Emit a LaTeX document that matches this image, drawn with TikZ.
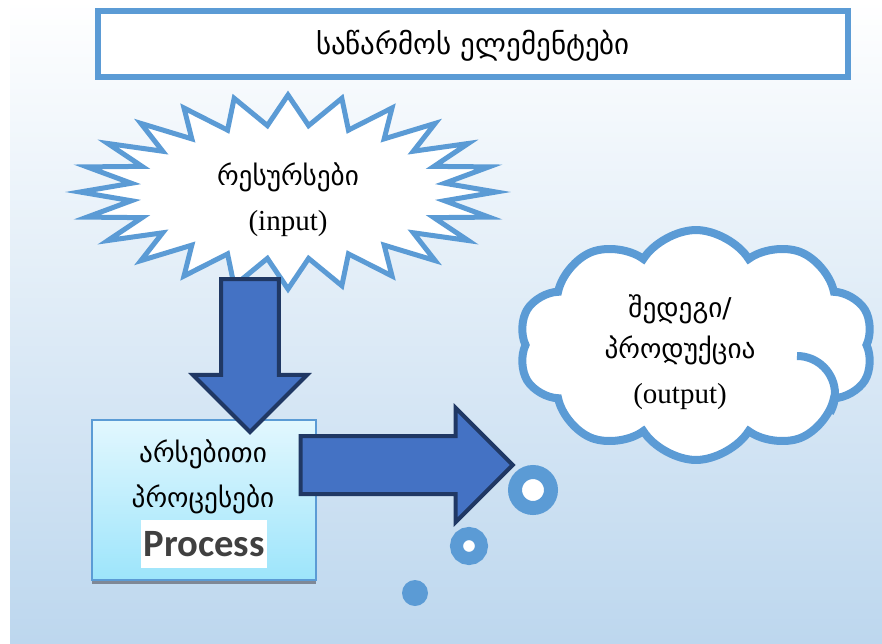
\documentclass[tikz,border=0pt]{standalone}
\usepackage{fontspec}
\setmainfont{Liberation Serif}
\newfontfamily\geo{DejaVu Sans}
\newfontfamily\procfont{Carlito}
\usepackage{tikz}
\definecolor{bleu}{HTML}{5B9BD5}
\definecolor{bleufl}{HTML}{4472C4}
\definecolor{marine}{HTML}{203864}
\definecolor{ciel}{HTML}{BDD7EE}
\definecolor{cyanh}{HTML}{E2F7FE}
\definecolor{cyanb}{HTML}{9DE5FB}
\definecolor{ombre}{HTML}{7F8896}
\definecolor{gristxt}{HTML}{404040}
\usetikzlibrary{shapes.arrows,shapes.symbols,shadows,calc}
\tikzset{texte/.style={
    font=\fontsize{16.5}{19}\selectfont,
    anchor=base,
    inner sep=0}}
\tikzset{geotexte/.style={
    texte,
    font=\geo\fontsize{15.5}{19}\selectfont}}
\tikzset{fleche/.style={
  single arrow,
  draw=marine,
  fill=bleufl,
  line width=0.08cm,
  inner sep=0.54cm,
  single arrow head extend=0.56cm,
  single arrow head indent=0}}
\tikzset{bulle/.style={
  circle,
  draw=bleu,
  fill=white,
  inner sep=0}}
\tikzset{pli/.style={
  draw=bleu,
  line width=0.16cm}}

\begin{document}
\begin{tikzpicture}[x=0.02cm, y=-0.02cm]
  \useasboundingbox (0,0) rectangle (882,643);
  \fill[top color=white, bottom color=ciel] (10,0) rectangle (882,643);

\coordinate (C) at (288,192);
\coordinate (N) at (696,345);

\node[draw=bleu,
  fill=white,
  line width=0.12cm,
  minimum width=15.02cm,
  minimum height=1.32cm] (titre) at (473,44) {};
\node[geotexte,
  font=\geo\fontsize{16.5}{19}\selectfont] (titretxt) at (473,54) {საწარმოს ელემენტები};

\draw[draw=bleu,
  fill=white,
  line width=0.1cm,
  line join=miter] (C) ++(208,0)
  \foreach \k in {1,...,47} {
    -- ($(C)+({((1+cos(180*\k))/2*50+158)*cos(7.5*\k)},{((1+cos(180*\k))/2*30+67)*sin(7.5*\k)})$)
  } -- cycle;
\node[geotexte] (res1) at (288,185) {რესურსები};
\node[texte] (res2) at (288,230) {(input)};

\node[draw=bleu,
  line width=0.03cm,
  top color=cyanh,
  bottom color=cyanb,
  drop shadow={shadow xshift=0cm, shadow yshift=-0.08cm, fill=ombre, opacity=1},
  minimum width=4.48cm,
  minimum height=3.2cm] (proc) at (204,500) {};
\node[geotexte] (proc1) at (203,462) {არსებითი};
\node[geotexte] (proc2) at (203,507) {პროცესები};
\node[fill=white,
  text=gristxt,
  font=\procfont\bfseries\fontsize{22}{24}\selectfont,
  minimum width=2.52cm,
  minimum height=0.96cm,
  inner sep=0] (procw) at (204,544) {Process};

\node[fleche,
  shape border rotate=270,
  minimum height=3.06cm,
  anchor=tail] (arrD) at ($(C)+(-38,85)$) {};
\node[fleche,
  minimum height=4.24cm,
  anchor=tail] (arrR) at ($(proc.east)+(-18,-35)$) {};

\node[cloud,
  cloud puffs=10,
  cloud puff arc=115,
  draw=bleu,
  fill=white,
  line width=0.16cm,
  minimum width=7.1cm,
  minimum height=4.6cm] (out) at (N) {};
\draw[pli] ($(N)+(101,11)$) arc[start angle=270, end angle=390, radius=38];
\node[geotexte] (out1) at (680,317) {შედეგი/};
\node[geotexte] (out2) at (680,358) {პროდუქცია};
\node[texte] (out3) at (680,403) {(output)};

\node[bulle,
  minimum size=0.72cm,
  line width=0.28cm] (b1) at (533,490) {};
\node[bulle,
  minimum size=0.5cm,
  line width=0.26cm] (b2) at (469,546) {};
\node[circle,
  fill=bleu,
  minimum size=0.52cm,
  inner sep=0] (b3) at (415,593) {};
\end{tikzpicture}
\end{document}
